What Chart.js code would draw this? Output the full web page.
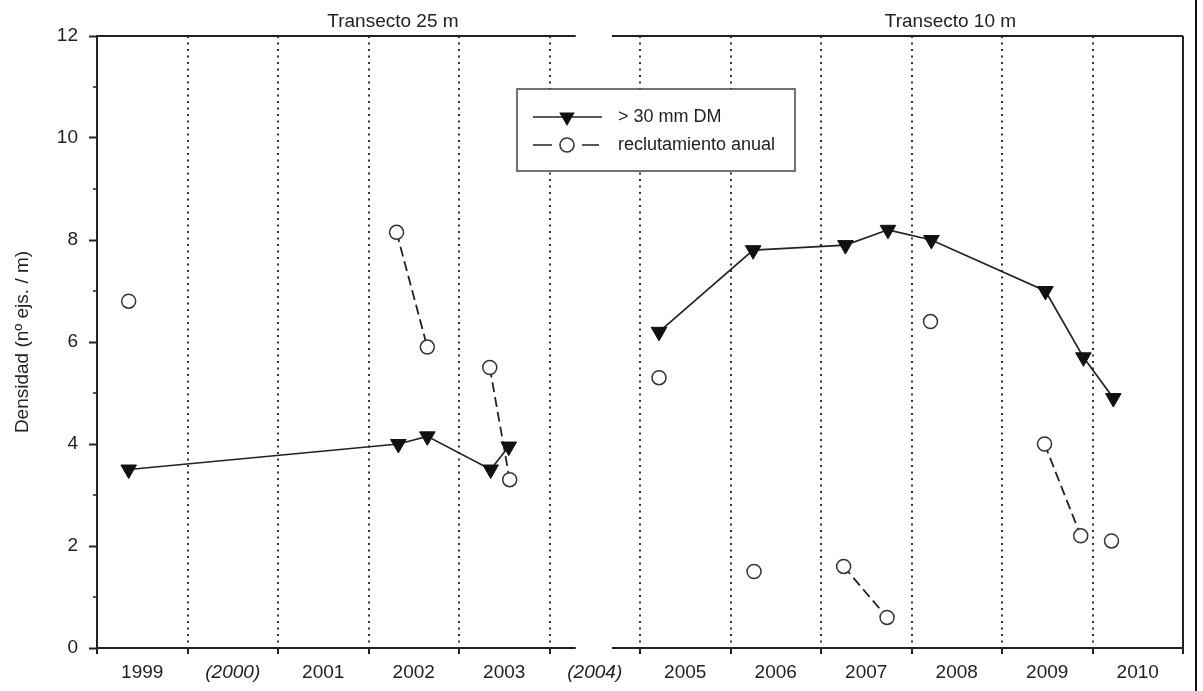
<!DOCTYPE html>
<html>
<head>
<meta charset="utf-8">
<script src="https://cdn.jsdelivr.net/npm/chart.js@4.4.1/dist/chart.umd.min.js"></script>
<style>
  html, body { margin: 0; padding: 0; background: #fff; }
  #wrap { width: 1203px; height: 691px; }
</style>
</head>
<body>
<div id="wrap"><canvas id="densChart" width="1203" height="691"></canvas></div>
<script>
// años del eje x (entre paréntesis: sin muestreo)
const yearLabels = ["1999", "(2000)", "2001", "2002", "2003", "(2004)", "2005", "2006", "2007", "2008", "2009", "2010"];
const panelTitles = ["Transecto 25 m", "Transecto 10 m"];
const legendLabels = ["> 30 mm DM", "reclutamiento anual"];
const yTitle = "Densidad (nº ejs. / m)";

// > 30 mm DM : fecha de muestreo, densidad, grupo (misma línea)
const dmTimes  = [1999.35, 2002.33, 2002.65, 2003.35, 2003.55, 2005.21, 2006.25, 2007.27, 2007.74, 2008.22, 2009.48, 2009.9, 2010.23];
const dmValues = [3.5, 4.0, 4.15, 3.5, 3.95, 6.2, 7.8, 7.9, 8.2, 8.0, 7.0, 5.7, 4.9];
const dmGroups = [1, 1, 1, 1, 1, 2, 2, 2, 2, 2, 2, 2, 2];

// reclutamiento anual
const recTimes  = [1999.35, 2002.31, 2002.65, 2003.34, 2003.56, 2005.21, 2006.26, 2007.25, 2007.73, 2008.21, 2009.47, 2009.87, 2010.21];
const recValues = [6.8, 8.15, 5.9, 5.5, 3.3, 5.3, 1.5, 1.6, 0.6, 6.4, 4.0, 2.2, 2.1];
const recGroups = [1, 2, 2, 3, 3, 4, 5, 6, 6, 7, 8, 8, 9];

const FONT = '"Liberation Sans", Arial, sans-serif';
const INK = '#222';
Chart.defaults.font.family = FONT;
Chart.defaults.color = INK;

// corte del eje entre los dos transectos
const axisBreak = [2004.29, 2004.69];

const decor = {
  id: 'decor',
  beforeDatasetsDraw(chart) {
    const { ctx, chartArea: a, scales: { x, y } } = chart;
    ctx.save();
    ctx.strokeStyle = INK;
    ctx.lineWidth = 2;
    [a.top, a.bottom].forEach((py) => {
      ctx.beginPath();
      ctx.moveTo(x.getPixelForValue(1999), py);
      ctx.lineTo(x.getPixelForValue(axisBreak[0]), py);
      ctx.moveTo(x.getPixelForValue(axisBreak[1]), py);
      ctx.lineTo(x.getPixelForValue(2011), py);
      ctx.stroke();
    });
    // ticks menores del eje y
    ctx.lineWidth = 1.5;
    for (let v = 1; v < 12; v += 2) {
      const py = y.getPixelForValue(v);
      ctx.beginPath();
      ctx.moveTo(a.left - 4, py);
      ctx.lineTo(a.left, py);
      ctx.stroke();
    }
    ctx.restore();
  },
  afterDraw(chart) {
    const { ctx, scales: { x } } = chart;
    ctx.save();
    ctx.fillStyle = INK;
    ctx.font = '19px ' + FONT;
    ctx.textAlign = 'center';
    ctx.textBaseline = 'middle';
    ctx.fillText(panelTitles[0], x.getPixelForValue(2002.27), 22);
    ctx.fillText(panelTitles[1], x.getPixelForValue(2008.43), 22);

    // leyenda
    const bx = 517, by = 89, bw = 278, bh = 82;
    ctx.fillStyle = '#fff';
    ctx.fillRect(bx, by, bw, bh);
    ctx.strokeStyle = '#444';
    ctx.lineWidth = 1.5;
    ctx.strokeRect(bx, by, bw, bh);

    const y1 = by + 28, y2 = by + 56, mx = 567;
    ctx.strokeStyle = INK;
    ctx.lineWidth = 1.6;
    ctx.beginPath();
    ctx.moveTo(533, y1); ctx.lineTo(602, y1);
    ctx.stroke();
    ctx.fillStyle = '#111';
    ctx.beginPath();
    const r = 9;
    ctx.moveTo(mx, y1 + r);
    ctx.lineTo(mx - r * 0.866, y1 - r / 2);
    ctx.lineTo(mx + r * 0.866, y1 - r / 2);
    ctx.closePath();
    ctx.fill();

    ctx.beginPath();
    ctx.moveTo(533, y2); ctx.lineTo(552, y2);
    ctx.moveTo(582, y2); ctx.lineTo(599, y2);
    ctx.stroke();
    ctx.fillStyle = '#fff';
    ctx.strokeStyle = '#333';
    ctx.beginPath();
    ctx.arc(mx, y2, 7, 0, Math.PI * 2);
    ctx.fill();
    ctx.stroke();

    ctx.fillStyle = INK;
    ctx.font = '18px ' + FONT;
    ctx.textAlign = 'left';
    ctx.fillText(legendLabels[0], 618, y1);
    ctx.fillText(legendLabels[1], 618, y2);

    // borde derecho de la imagen
    ctx.fillStyle = '#111';
    ctx.fillRect(1195, 0, 2, chart.height);
    ctx.restore();
  }
};

const sameGroup = (groups) => (ctx) =>
  groups[ctx.p0DataIndex] === groups[ctx.p1DataIndex] ? undefined : 'transparent';

const data1 = {
  datasets: [
    {
      label: legendLabels[0],
      data: dmTimes.map((t, i) => ({ x: t, y: dmValues[i] })),
      borderColor: INK,
      borderWidth: 1.7,
      pointStyle: 'triangle',
      rotation: 180,
      pointRadius: 9,
      pointBackgroundColor: '#111',
      pointBorderColor: '#111',
      pointBorderWidth: 1,
      segment: { borderColor: sameGroup(dmGroups) },
    },
    {
      label: legendLabels[1],
      data: recTimes.map((t, i) => ({ x: t, y: recValues[i] })),
      borderColor: INK,
      borderWidth: 1.8,
      borderDash: [10, 5],
      pointStyle: 'circle',
      pointRadius: 7,
      pointBackgroundColor: '#fff',
      pointBorderColor: '#333',
      pointBorderWidth: 1.5,
      segment: { borderColor: sameGroup(recGroups) },
    },
  ],
};

const isEdge = (ctx) => ctx.tick && (ctx.tick.value === 1999 || ctx.tick.value === 2011);

const config1 = {
  type: 'line',
  data: data1,
  options: {
    responsive: false,
    animation: false,
    layout: { padding: { left: 0, right: 20, top: 36, bottom: 0 } },
    plugins: { legend: { display: false }, tooltip: { enabled: false } },
    scales: {
      x: {
        type: 'linear',
        min: 1999,
        max: 2011,
        afterFit: (s) => { s.height = 43; },
        border: {
          display: false,
          dash: (ctx) => (isEdge(ctx) ? [] : [2, 4.5]),
        },
        grid: {
          color: (ctx) => (isEdge(ctx) ? INK : '#333'),
          lineWidth: 2,
          tickLength: 6,
          tickColor: INK,
          tickWidth: 2,
          tickBorderDash: [],
        },
        ticks: {
          stepSize: 1,
          autoSkip: false,
          maxRotation: 0,
          padding: 7,
          labelOffset: 45.25,
          color: INK,
          font: (ctx) => {
            const lab = ctx.tick ? yearLabels[ctx.tick.value - 1999] : '';
            return { family: FONT, size: 19, style: lab && lab[0] === '(' ? 'italic' : 'normal' };
          },
          callback: (v) => yearLabels[v - 1999] || '',
        },
      },
      y: {
        min: 0,
        max: 12,
        afterFit: (s) => { s.width = 97; },
        border: { display: true, color: INK, width: 2 },
        grid: {
          drawOnChartArea: false,
          tickLength: 8,
          tickWidth: 2,
          tickColor: (ctx) => (ctx.tick && ctx.tick.value % 2 === 0 ? INK : 'transparent'),
        },
        ticks: {
          stepSize: 1,
          padding: 11,
          color: INK,
          font: { size: 19 },
          callback: (v) => (v % 2 === 0 ? v : ''),
        },
        title: {
          display: true,
          text: yTitle,
          color: INK,
          font: { size: 19 },
          padding: { top: 11, bottom: 0 },
        },
      },
    },
  },
  plugins: [decor],
};

const densChart = new Chart(document.getElementById('densChart'), config1);
</script>
</body>
</html>
